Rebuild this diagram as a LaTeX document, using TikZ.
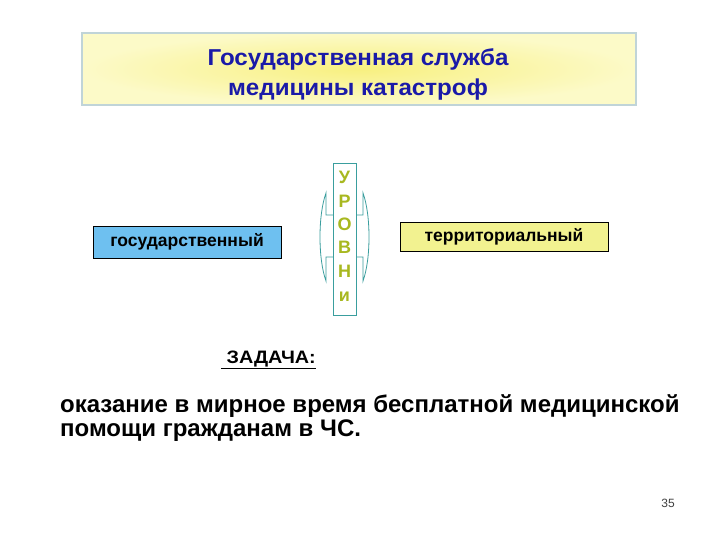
\documentclass[tikz,border=0pt]{standalone}
\usepackage{graphicx}
\usepackage{fontspec}
\setmainfont{Liberation Sans}
\definecolor{titleblue}{HTML}{1A1AA8}
\definecolor{boxyellow}{HTML}{F8F080}
\definecolor{boxyellowlight}{HTML}{FCFAC8}
\definecolor{lblue}{HTML}{6EC0F0}
\definecolor{lyellow}{HTML}{F2F290}
\definecolor{teal1}{HTML}{3A9E9E}
\definecolor{lgreen}{HTML}{A8B820}
\definecolor{greyborder}{HTML}{C0D4D8}
\tikzset{
  lvlbox/.style={draw=black, line width=0.8pt, inner sep=0pt, font=\bfseries\fontsize{17.5}{20}\selectfont},
  letter/.style={text=lgreen, font=\bfseries\fontsize{18}{20}\selectfont, inner sep=0pt},
}
\begin{document}
\begin{tikzpicture}[x=1pt,y=-1pt]
\useasboundingbox (0,0) rectangle (720,540);
\fill[white] (0,0) rectangle (720,540);
% title box
\shade[inner color=boxyellow, outer color=boxyellowlight] (82,33) rectangle (636,105);
\draw[greyborder, line width=1.2pt] (82,33) rectangle (636,105);
\node[anchor=base, text=titleblue, font=\bfseries\fontsize{23}{30}\selectfont, inner sep=0pt] (title1) at (358,66) {\scalebox{1.05}[1]{Государственная служба}};
\node[anchor=base, text=titleblue, font=\bfseries\fontsize{23}{30}\selectfont, inner sep=0pt] (title2) at (358,96) {\scalebox{1.05}[1]{медицины катастроф}};
% level boxes
\node[lvlbox, fill=lblue, minimum width=188pt, minimum height=32pt] (gos) at (187,242) {государственный};
\node[lvlbox, fill=lyellow, minimum width=208pt, minimum height=29pt] (ter) at (504,236.5) {территориальный};
% central arrow shape
\draw[teal1, line width=0.8pt, fill=white]
  (333,215) -- (326,215) -- (326,193) .. controls (318,215) and (318,259) .. (326,281)
  -- (326,257) -- (333,257);
\draw[teal1, line width=0.8pt, fill=white]
  (356,215) -- (363,215) -- (363,193) .. controls (371,215) and (371,259) .. (363,281)
  -- (363,257) -- (356,257);
\draw[teal1, line width=0.8pt, fill=white] (333,163) rectangle (356,315);
\node[letter] (l1) at (344.5,177) {У};
\node[letter] (l2) at (344.5,201) {Р};
\node[letter] (l3) at (344.5,224) {О};
\node[letter] (l4) at (344.5,247) {В};
\node[letter] (l5) at (344.5,271) {Н};
\node[letter] (l6) at (344.5,297) {и};
% task
\node[anchor=base west, inner sep=0pt, font=\bfseries\fontsize{18}{20}\selectfont] (task) at (221,363) {\scalebox{1.1}[1]{\underline{\ ЗАДАЧА:}}};
\node[anchor=base west, inner sep=0pt, font=\bfseries\fontsize{24}{24}\selectfont] (text1) at (60,412) {оказание в мирное время бесплатной медицинской};
\node[anchor=base west, inner sep=0pt, font=\bfseries\fontsize{24}{24}\selectfont] (text2) at (60,436) {помощи гражданам в ЧС.};
\node[text=black!75, font=\fontsize{12}{14}\selectfont, inner sep=0pt] (num) at (668,503) {35};
\end{tikzpicture}
\end{document}
